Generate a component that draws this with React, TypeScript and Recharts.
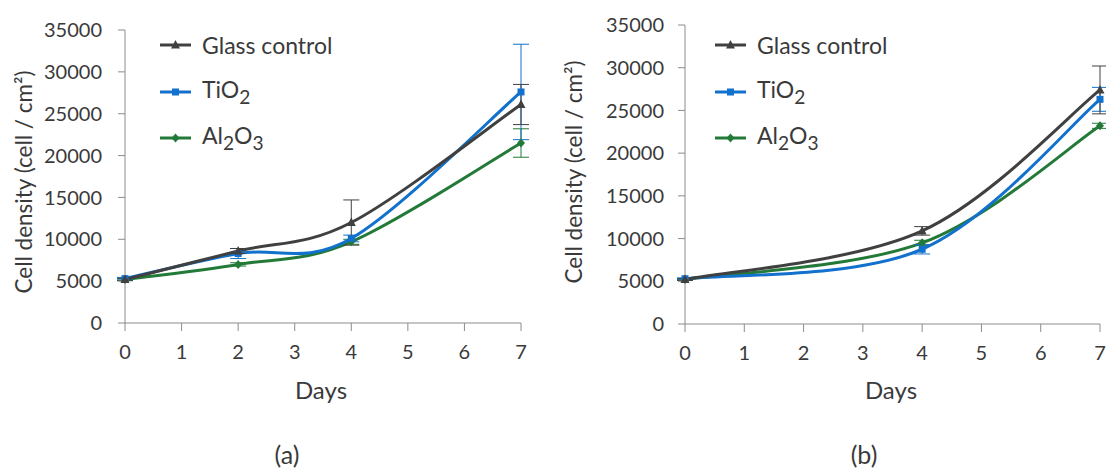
import { Legend, Line, LineChart, XAxis, YAxis, ErrorBar } from 'recharts'

// panel (a): days 0, 2, 4, 7
const daysA = [0, 2, 4, 7]
const glassA = [5200, 8600, 12000, 26100]
const glassErrA = [150, 300, 2700, 2400]
const tio2A = [5300, 8300, 10100, 27600]
const tio2ErrA = [150, 600, 400, 5700]
const al2o3A = [5200, 7000, 9700, 21500]
const al2o3ErrA = [100, 200, 300, 1700]

// panel (b): days 0, 4, 7
const daysB = [0, 4, 7]
const glassB = [5200, 10900, 27400]
const glassErrB = [100, 500, 2800]
const tio2B = [5300, 8750, 26300]
const tio2ErrB = [100, 550, 1400]
const al2o3B = [5200, 9500, 23200]
const al2o3ErrB = [100, 300, 300]

const xTicks = [0, 1, 2, 3, 4, 5, 6, 7]
const yTicks = [0, 5000, 10000, 15000, 20000, 25000, 30000, 35000]

const GLASS = '#404040'
const TIO2 = '#1271CC'
const AL2O3 = '#237A38'
const AXIS = '#8c8c8c'
const TEXT = '#3a3a3a'
const FONT = 'Lato, sans-serif'

const rows = (days: number[], vals: number[], errs: number[]) =>
  days.map((d, i) => ({ day: d, value: vals[i], err: errs[i] }))

// Excel-style smoothed line (Catmull-Rom as bezier)
const excelCurve: any = (context: any) => {
  let pts: number[][] = []
  return {
    areaStart() {},
    areaEnd() {},
    lineStart() {
      pts = []
    },
    point(x: number, y: number) {
      pts.push([+x, +y])
    },
    lineEnd() {
      if (!pts.length) return
      context.moveTo(pts[0][0], pts[0][1])
      const t = 1 / 6
      for (let i = 0; i < pts.length - 1; i++) {
        const p0 = pts[Math.max(i - 1, 0)]
        const p1 = pts[i]
        const p2 = pts[i + 1]
        const p3 = pts[Math.min(i + 2, pts.length - 1)]
        context.bezierCurveTo(
          p1[0] + (p2[0] - p0[0]) * t,
          p1[1] + (p2[1] - p0[1]) * t,
          p2[0] - (p3[0] - p1[0]) * t,
          p2[1] - (p3[1] - p1[1]) * t,
          p2[0],
          p2[1],
        )
      }
    },
  }
}

type Shape = 'triangle' | 'square' | 'diamond'

function Marker({ cx, cy, shape, color }: { cx: number; cy: number; shape: Shape; color: string }) {
  if (cx == null || cy == null) return null
  if (shape === 'triangle')
    return <path d={`M${cx},${cy - 5} L${cx + 4.5},${cy + 3.5} L${cx - 4.5},${cy + 3.5} Z`} fill={color} />
  if (shape === 'square') return <rect x={cx - 3.5} y={cy - 3.5} width={7} height={7} fill={color} />
  return <path d={`M${cx},${cy - 4.5} L${cx + 4},${cy} L${cx},${cy + 4.5} L${cx - 4},${cy} Z`} fill={color} />
}

const dotFor = (shape: Shape, color: string) => (p: any) =>
  <Marker key={`${shape}-${p.index}`} cx={p.cx} cy={p.cy} shape={shape} color={color} />

const legendItems: { label: React.ReactNode; color: string; shape: Shape }[] = [
  { label: 'Glass control', color: GLASS, shape: 'triangle' },
  { label: <>TiO<sub>2</sub></>, color: TIO2, shape: 'square' },
  { label: <>Al<sub>2</sub>O<sub>3</sub></>, color: AL2O3, shape: 'diamond' },
]

function LegendBox() {
  return (
    <div style={{ fontFamily: FONT, fontSize: 23, color: TEXT }}>
      {legendItems.map((it, i) => (
        <div key={i} style={{ display: 'flex', alignItems: 'center', height: 46.5, whiteSpace: 'nowrap' }}>
          <svg width={31} height={12} style={{ marginRight: 11 }}>
            <line x1={0} y1={6} x2={31} y2={6} stroke={it.color} strokeWidth={3} />
            <Marker cx={15.5} cy={6} shape={it.shape} color={it.color} />
          </svg>
          <span style={{ lineHeight: 1 }}>{it.label}</span>
        </div>
      ))}
    </div>
  )
}

function Panel({
  width,
  margin,
  tickGap,
  legendPos,
  glass,
  tio2,
  al2o3,
}: {
  width: number
  margin: { top: number; right: number; bottom: number; left: number }
  tickGap: number
  legendPos: { left: number; top: number }
  glass: any[]
  tio2: any[]
  al2o3: any[]
}) {
  const tick = { fill: TEXT, fontSize: 20, fontFamily: FONT }
  return (
    <LineChart width={width} height={420} margin={margin}>
      <XAxis
        dataKey="day"
        type="number"
        domain={[0, 7]}
        ticks={xTicks}
        allowDuplicatedCategory={false}
        height={30}
        tick={tick}
        tickSize={8}
        tickMargin={14}
        stroke={AXIS}
      />
      <YAxis
        type="number"
        domain={[0, 35000]}
        ticks={yTicks}
        width={70}
        tick={tick}
        tickSize={7}
        tickMargin={tickGap}
        stroke={AXIS}
      />
      <Legend
        layout="vertical"
        align="center"
        verticalAlign="middle"
        content={() => <LegendBox />}
        wrapperStyle={{ left: legendPos.left, top: legendPos.top, width: 220 }}
      />
      <Line
        data={al2o3}
        dataKey="value"
        type={excelCurve}
        stroke={AL2O3}
        strokeWidth={3}
        dot={dotFor('diamond', AL2O3)}
        activeDot={false}
        isAnimationActive={false}
      >
        <ErrorBar dataKey="err" direction="y" width={8} strokeWidth={1} stroke={AL2O3} />
      </Line>
      <Line
        data={tio2}
        dataKey="value"
        type={excelCurve}
        stroke={TIO2}
        strokeWidth={3}
        dot={dotFor('square', TIO2)}
        activeDot={false}
        isAnimationActive={false}
      >
        <ErrorBar dataKey="err" direction="y" width={8} strokeWidth={1} stroke={TIO2} />
      </Line>
      <Line
        data={glass}
        dataKey="value"
        type={excelCurve}
        stroke={GLASS}
        strokeWidth={3}
        dot={dotFor('triangle', GLASS)}
        activeDot={false}
        isAnimationActive={false}
      >
        <ErrorBar dataKey="err" direction="y" width={8} strokeWidth={1} stroke={GLASS} />
      </Line>
    </LineChart>
  )
}

const textStyle: React.CSSProperties = {
  position: 'absolute',
  fontFamily: FONT,
  fontSize: 24,
  lineHeight: 1.1,
  color: TEXT,
  whiteSpace: 'nowrap',
  transform: 'translate(-50%, -50%)',
}

function YTitle({ x, y }: { x: number; y: number }) {
  return (
    <div style={{ ...textStyle, fontSize: 22.5, left: x, top: y, transform: 'translate(-50%, -50%) rotate(-90deg)' }}>
      Cell density (cell / cm²)
    </div>
  )
}

export default function App() {
  return (
    <div style={{ position: 'absolute', left: 0, top: 0, width: 1106, height: 471, background: '#fff', overflow: 'hidden' }}>
      <div style={{ position: 'absolute', left: 0, top: 0 }}>
        <Panel
          width={550}
          margin={{ top: 30, right: 29, bottom: 67, left: 55 }}
          tickGap={16}
          legendPos={{ left: 160, top: 22 }}
          glass={rows(daysA, glassA, glassErrA)}
          tio2={rows(daysA, tio2A, tio2ErrA)}
          al2o3={rows(daysA, al2o3A, al2o3ErrA)}
        />
      </div>
      <div style={{ position: 'absolute', left: 550, top: 0 }}>
        <Panel
          width={556}
          margin={{ top: 25, right: 6, bottom: 66, left: 65 }}
          tickGap={14}
          legendPos={{ left: 165, top: 22 }}
          glass={rows(daysB, glassB, glassErrB)}
          tio2={rows(daysB, tio2B, tio2ErrB)}
          al2o3={rows(daysB, al2o3B, al2o3ErrB)}
        />
      </div>
      <YTitle x={24} y={182} />
      <YTitle x={574} y={172} />
      <div style={{ ...textStyle, left: 321, top: 390 }}>Days</div>
      <div style={{ ...textStyle, left: 891, top: 390 }}>Days</div>
      <div style={{ ...textStyle, fontSize: 25, left: 287, top: 455 }}>(a)</div>
      <div style={{ ...textStyle, fontSize: 25, left: 864, top: 455 }}>(b)</div>
    </div>
  )
}
